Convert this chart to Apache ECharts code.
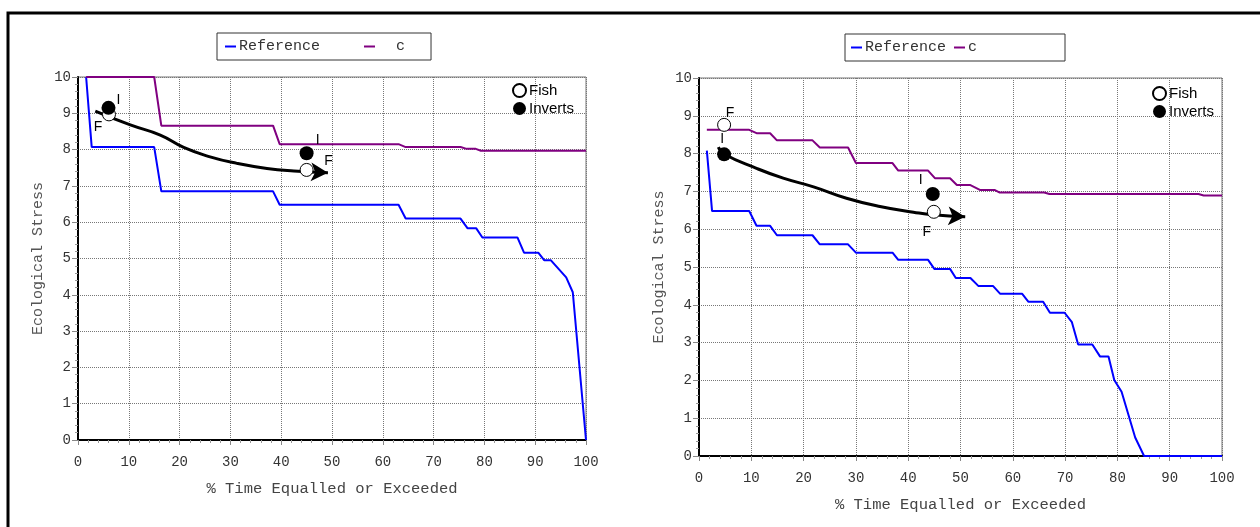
<!DOCTYPE html>
<html>
<head>
<meta charset="utf-8">
<script src="https://cdn.jsdelivr.net/npm/echarts@6.0.0/dist/echarts.min.js"></script>
<style>
  html, body { margin: 0; padding: 0; background: #fff; }
  #myChart { width: 1260px; height: 527px; }
</style>
</head>
<body>
<div id="myChart"></div>
<script>
// 数据 —— 左图
var leftRef = [[1.6,10],[2.7,8.07],[15,8.07],[16.4,6.85],[38.4,6.85],[39.7,6.48],[63.1,6.48],[64.5,6.1],[75.3,6.1],[76.7,5.83],[78.4,5.83],[79.6,5.58],[86.5,5.58],[87.8,5.16],[90.6,5.16],[91.8,4.95],[93.1,4.95],[96.1,4.48],[97.4,4.07],[100,0]];
var leftC = [[1.6,10],[15,10],[16.4,8.66],[38.4,8.66],[39.7,8.15],[63.1,8.15],[64.5,8.07],[75.3,8.07],[76.5,8.02],[78.3,8.02],[79.3,7.97],[100,7.97]];
var leftTrend = [[3.4,9.06],[10.3,8.68],[16.2,8.4],[20.8,8.06],[26,7.8],[31.3,7.62],[37.2,7.48],[42.5,7.41],[49.2,7.36]];
var leftFish = [[6.1,8.97],[45,7.44]];
var leftInverts = [[6.0,9.15],[45,7.9]];

// 数据 —— 右图
var rightRef = [[1.5,8.08],[2.5,6.48],[9.6,6.48],[11,6.09],[13.6,6.09],[14.9,5.84],[21.7,5.84],[23.1,5.6],[28.5,5.6],[30,5.38],[37,5.38],[38.1,5.19],[43.8,5.19],[45,4.95],[48,4.95],[49.1,4.71],[51.9,4.71],[53.4,4.5],[56.2,4.5],[57.6,4.29],[61.8,4.29],[63,4.08],[65.8,4.08],[67.1,3.79],[69.9,3.79],[71.3,3.54],[72.5,2.95],[75.2,2.95],[76.7,2.63],[78.3,2.63],[79.4,2.01],[80.8,1.7],[83.4,0.49],[85.1,0],[100,0]];
var rightC = [[1.5,8.63],[9.6,8.63],[11,8.54],[13.6,8.54],[14.9,8.35],[21.7,8.35],[23.1,8.16],[28.5,8.16],[30,7.75],[37,7.75],[38.1,7.55],[43.8,7.55],[45.1,7.35],[48,7.35],[49.3,7.17],[51.8,7.17],[53.7,7.04],[56.5,7.04],[57.5,6.97],[66,6.97],[67,6.93],[95.5,6.93],[96.5,6.89],[100,6.89]];
var rightTrend = [[3.7,8.17],[4.8,7.99],[11,7.61],[16.1,7.35],[21.9,7.12],[28.2,6.82],[34.6,6.6],[41,6.45],[44.8,6.38],[50.9,6.33]];
var rightFish = [[4.8,8.76],[44.9,6.46]];
var rightInverts = [[4.8,7.98],[44.7,6.93]];

// 点旁边的字母
var fishText = 'F';
var invertsText = 'I';

var mono = "'Liberation Mono', 'DejaVu Sans Mono', monospace";
var sans = "'Liberation Sans', Arial, sans-serif";

// 字母偏移（样式，不是数据）
var leftFishOffset = [[-11, 13], [22, -9]];
var leftInvOffset = [[10, -8], [11, -13]];
var rightFishOffset = [[6, -12], [-7, 20]];
var rightInvOffset = [[-2, -15], [-12, -14]];

function withLabels(points, text, offsets) {
  return points.map(function (p, i) {
    return {
      value: p,
      label: { show: true, formatter: text, position: 'inside', offset: offsets[i] }
    };
  });
}

function xAxisOf(idx) {
  return {
    gridIndex: idx,
    type: 'value',
    min: 0, max: 100, interval: 10,
    name: '% Time Equalled or Exceeded',
    nameLocation: 'middle',
    nameGap: 41,
    nameTextStyle: { fontFamily: mono, fontSize: 15.5, color: '#444' },
    axisLine: { show: true, onZero: false, lineStyle: { color: '#000', width: 2 } },
    axisTick: { show: true, length: 5, lineStyle: { color: '#888' } },
    minorTick: { show: true, splitNumber: 5, length: 3, lineStyle: { color: '#999' } },
    axisLabel: { fontFamily: mono, fontSize: 14, color: '#333', margin: 15 },
    splitLine: { show: true, lineStyle: { color: '#777', type: 'dotted' } }
  };
}

function yAxisOf(idx) {
  return {
    gridIndex: idx,
    type: 'value',
    min: 0, max: 10, interval: 1,
    name: 'Ecological Stress',
    nameLocation: 'middle',
    nameGap: 32,
    nameTextStyle: { fontFamily: mono, fontSize: 15, color: '#555' },
    axisLine: { show: true, onZero: false, lineStyle: { color: '#000', width: 2 } },
    axisTick: { show: true, length: 6, lineStyle: { color: '#888' } },
    minorTick: { show: true, splitNumber: 5, length: 3, lineStyle: { color: '#999' } },
    axisLabel: { fontFamily: mono, fontSize: 14, color: '#333', margin: 7 },
    splitLine: { show: true, lineStyle: { color: '#777', type: 'dotted' } }
  };
}

function seriesOf(idx, ref, c, trend, fish, inverts, fishOff, invOff) {
  var tip = trend[trend.length - 1];
  return [
    {
      name: 'Reference', type: 'line', xAxisIndex: idx, yAxisIndex: idx,
      data: ref, symbol: 'none', lineStyle: { color: '#0000ff', width: 2 },
      itemStyle: { color: '#0000ff' }
    },
    {
      name: 'c', type: 'line', xAxisIndex: idx, yAxisIndex: idx,
      data: c, symbol: 'none', lineStyle: { color: '#800080', width: 2 },
      itemStyle: { color: '#800080' }
    },
    {
      name: 'trend', type: 'line', xAxisIndex: idx, yAxisIndex: idx,
      data: trend, symbol: 'none', smooth: true,
      lineStyle: { color: '#000', width: 3 }
    },
    {
      // 箭头
      name: 'arrow', type: 'scatter', xAxisIndex: idx, yAxisIndex: idx,
      data: [tip], symbol: 'arrow', symbolSize: [14, 17], symbolRotate: -93,
      symbolOffset: [0, 0], itemStyle: { color: '#000', opacity: 1 }, z: 5
    },
    {
      name: 'Fish', type: 'scatter', xAxisIndex: idx, yAxisIndex: idx,
      data: withLabels(fish, fishText, fishOff),
      symbol: 'circle', symbolSize: 13,
      itemStyle: { color: '#fff', borderColor: '#000', borderWidth: 1, opacity: 1 },
      label: { fontFamily: sans, fontSize: 14, color: '#000' },
      z: 6
    },
    {
      name: 'Inverts', type: 'scatter', xAxisIndex: idx, yAxisIndex: idx,
      data: withLabels(inverts, invertsText, invOff),
      symbol: 'circle', symbolSize: 14,
      itemStyle: { color: '#000', opacity: 1 },
      label: { fontFamily: sans, fontSize: 14, color: '#000' },
      z: 6
    }
  ];
}

var myChart = echarts.init(document.getElementById('myChart'));

myChart.setOption({
  backgroundColor: '#fff',
  animation: false,
  graphic: [{
    // 外框
    type: 'rect',
    shape: { x: 8, y: 13, width: 1400, height: 700 },
    style: { fill: 'none', stroke: '#000', lineWidth: 3 },
    silent: true
  }],
  grid: [
    { left: 78, top: 77, width: 508, height: 363, show: true, borderColor: '#777', borderWidth: 1 },
    { left: 699, top: 78, width: 523, height: 378, show: true, borderColor: '#777', borderWidth: 1 }
  ],
  legend: [
    {
      data: ['Reference', 'c'],
      left: 217, top: 33,
      padding: [6, 26, 6, 8],
      itemGap: 44,
      itemWidth: 11, itemHeight: 2,
      icon: 'rect',
      borderColor: '#333', borderWidth: 1,
      formatter: function (name) { return name === 'c' ? '  c' : name; },
      textStyle: { fontFamily: mono, fontSize: 15, color: '#333', padding: [0, 0, 0, -2] }
    },
    {
      data: ['Reference', 'c'],
      left: 845, top: 34,
      padding: [6, 88, 6, 6],
      itemGap: 8,
      itemWidth: 11, itemHeight: 2,
      icon: 'rect',
      borderColor: '#333', borderWidth: 1,
      textStyle: { fontFamily: mono, fontSize: 15, color: '#333', padding: [0, 0, 0, -2] }
    },
    {
      data: ['Fish', 'Inverts'],
      orient: 'vertical',
      left: 512, top: 83,
      padding: 0, itemGap: 3,
      itemWidth: 13, itemHeight: 13,
      textStyle: { fontFamily: sans, fontSize: 15, color: '#000', padding: [0, 0, 0, -2] }
    },
    {
      data: ['Fish', 'Inverts'],
      orient: 'vertical',
      left: 1152, top: 86,
      padding: 0, itemGap: 3,
      itemWidth: 13, itemHeight: 13,
      textStyle: { fontFamily: sans, fontSize: 15, color: '#000', padding: [0, 0, 0, -2] }
    }
  ],
  xAxis: [xAxisOf(0), xAxisOf(1)],
  yAxis: [yAxisOf(0), yAxisOf(1)],
  series: []
    .concat(seriesOf(0, leftRef, leftC, leftTrend, leftFish, leftInverts, leftFishOffset, leftInvOffset))
    .concat(seriesOf(1, rightRef, rightC, rightTrend, rightFish, rightInverts, rightFishOffset, rightInvOffset))
});
</script>
</body>
</html>
